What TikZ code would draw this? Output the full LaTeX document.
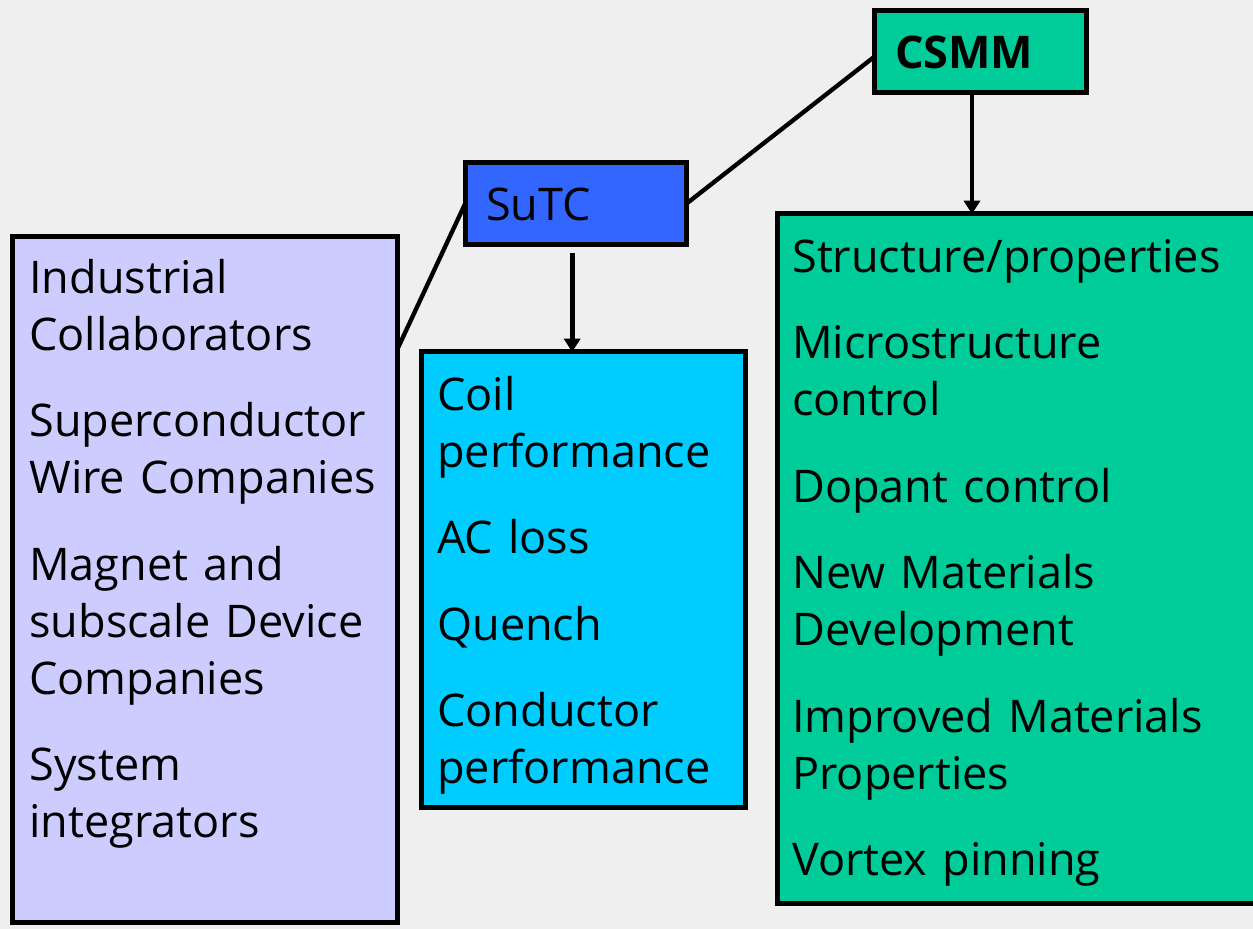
\documentclass[tikz,border=0pt]{standalone}
\usepackage{fontspec}
\setmainfont{Open Sans}
\usepackage{tikz}
\usetikzlibrary{arrows.meta}
\definecolor{backgray}{HTML}{EFEFEF}
\definecolor{csmmgreen}{HTML}{00CC99}
\definecolor{sutcblue}{HTML}{3366FF}
\definecolor{coilcyan}{HTML}{00CCFF}
\definecolor{partnerlilac}{HTML}{CCCCFF}
\tikzstyle{box} = [rectangle, anchor=north west, draw=black, line width=3pt, inner sep=0pt, outer sep=0pt]
\tikzstyle{centre} = [box, minimum height=49.2pt, inner xsep=12.6pt, align=left, font=\fontsize{27pt}{34.2pt}\selectfont]
\tikzstyle{items} = [anchor=north west, inner sep=0pt, text width=300pt, align=left, font=\fontsize{27pt}{34.2pt}\selectfont]
\tikzstyle{link} = [draw=black, line width=2.6pt]
\tikzstyle{arrow} = [-{Triangle[width=9.6pt,length=8pt]}, line width=2.8pt]

\begin{document}
\begin{tikzpicture}[x=0.6pt, y=-0.6pt]
	\useasboundingbox [fill=backgray] (0,0) rectangle (1253,929);
	% boxes
	\node (ind) [box, fill=partnerlilac, minimum width=231pt, minimum height=411.6pt] at (12,237) {};
	\node (coil) [box, fill=coilcyan, minimum width=194.4pt, minimum height=273.6pt] at (421,352) {};
	\node (mat) [box, fill=csmmgreen, minimum width=295.8pt, minimum height=414pt] at (777,214) {};
	\node (csmm) [centre, fill=csmmgreen, text width=102pt] at (874,11) {\bfseries CSMM};
	\node (sutc) [centre, fill=sutcblue, text width=107.4pt] at (465,163) {SuTC};
	% texts
	\node (indtext) [items] at (29,253) {\strut Industrial\\ Collaborators\\[17.7pt] Superconductor\\ Wire Companies\\[17.7pt] Magnet and\\ subscale Device\\ Companies\\[17.7pt] System\\ integrators};
	\node (coiltext) [items] at (437,370) {\strut Coil\\ performance\\[17.7pt] AC loss\\[17.7pt] Quench\\[17.7pt] Conductor\\ performance};
	\node (mattext) [items] at (792,232) {\strut Structure/properties\\[17.7pt] Microstructure\\ control\\[17.7pt] Dopant control\\[17.7pt] New Materials\\ Development\\[17.7pt] Improved Materials\\ Properties\\[17.7pt] Vortex pinning};

	\draw [link] ([yshift=-3pt]csmm.west) -- (sutc.east);
	\draw [link] (sutc.west) -- ([yshift=-67.8pt]ind.north east);
	\draw [arrow] ([xshift=-4.8pt]csmm.south) -- ([xshift=-4.8pt]csmm.south |- mat.north);
	\draw [arrow] ([xshift=-2pt,yshift=-4.8pt]sutc.south) -- ([xshift=-2pt]sutc.south |- coil.north);
\end{tikzpicture}
\end{document}
